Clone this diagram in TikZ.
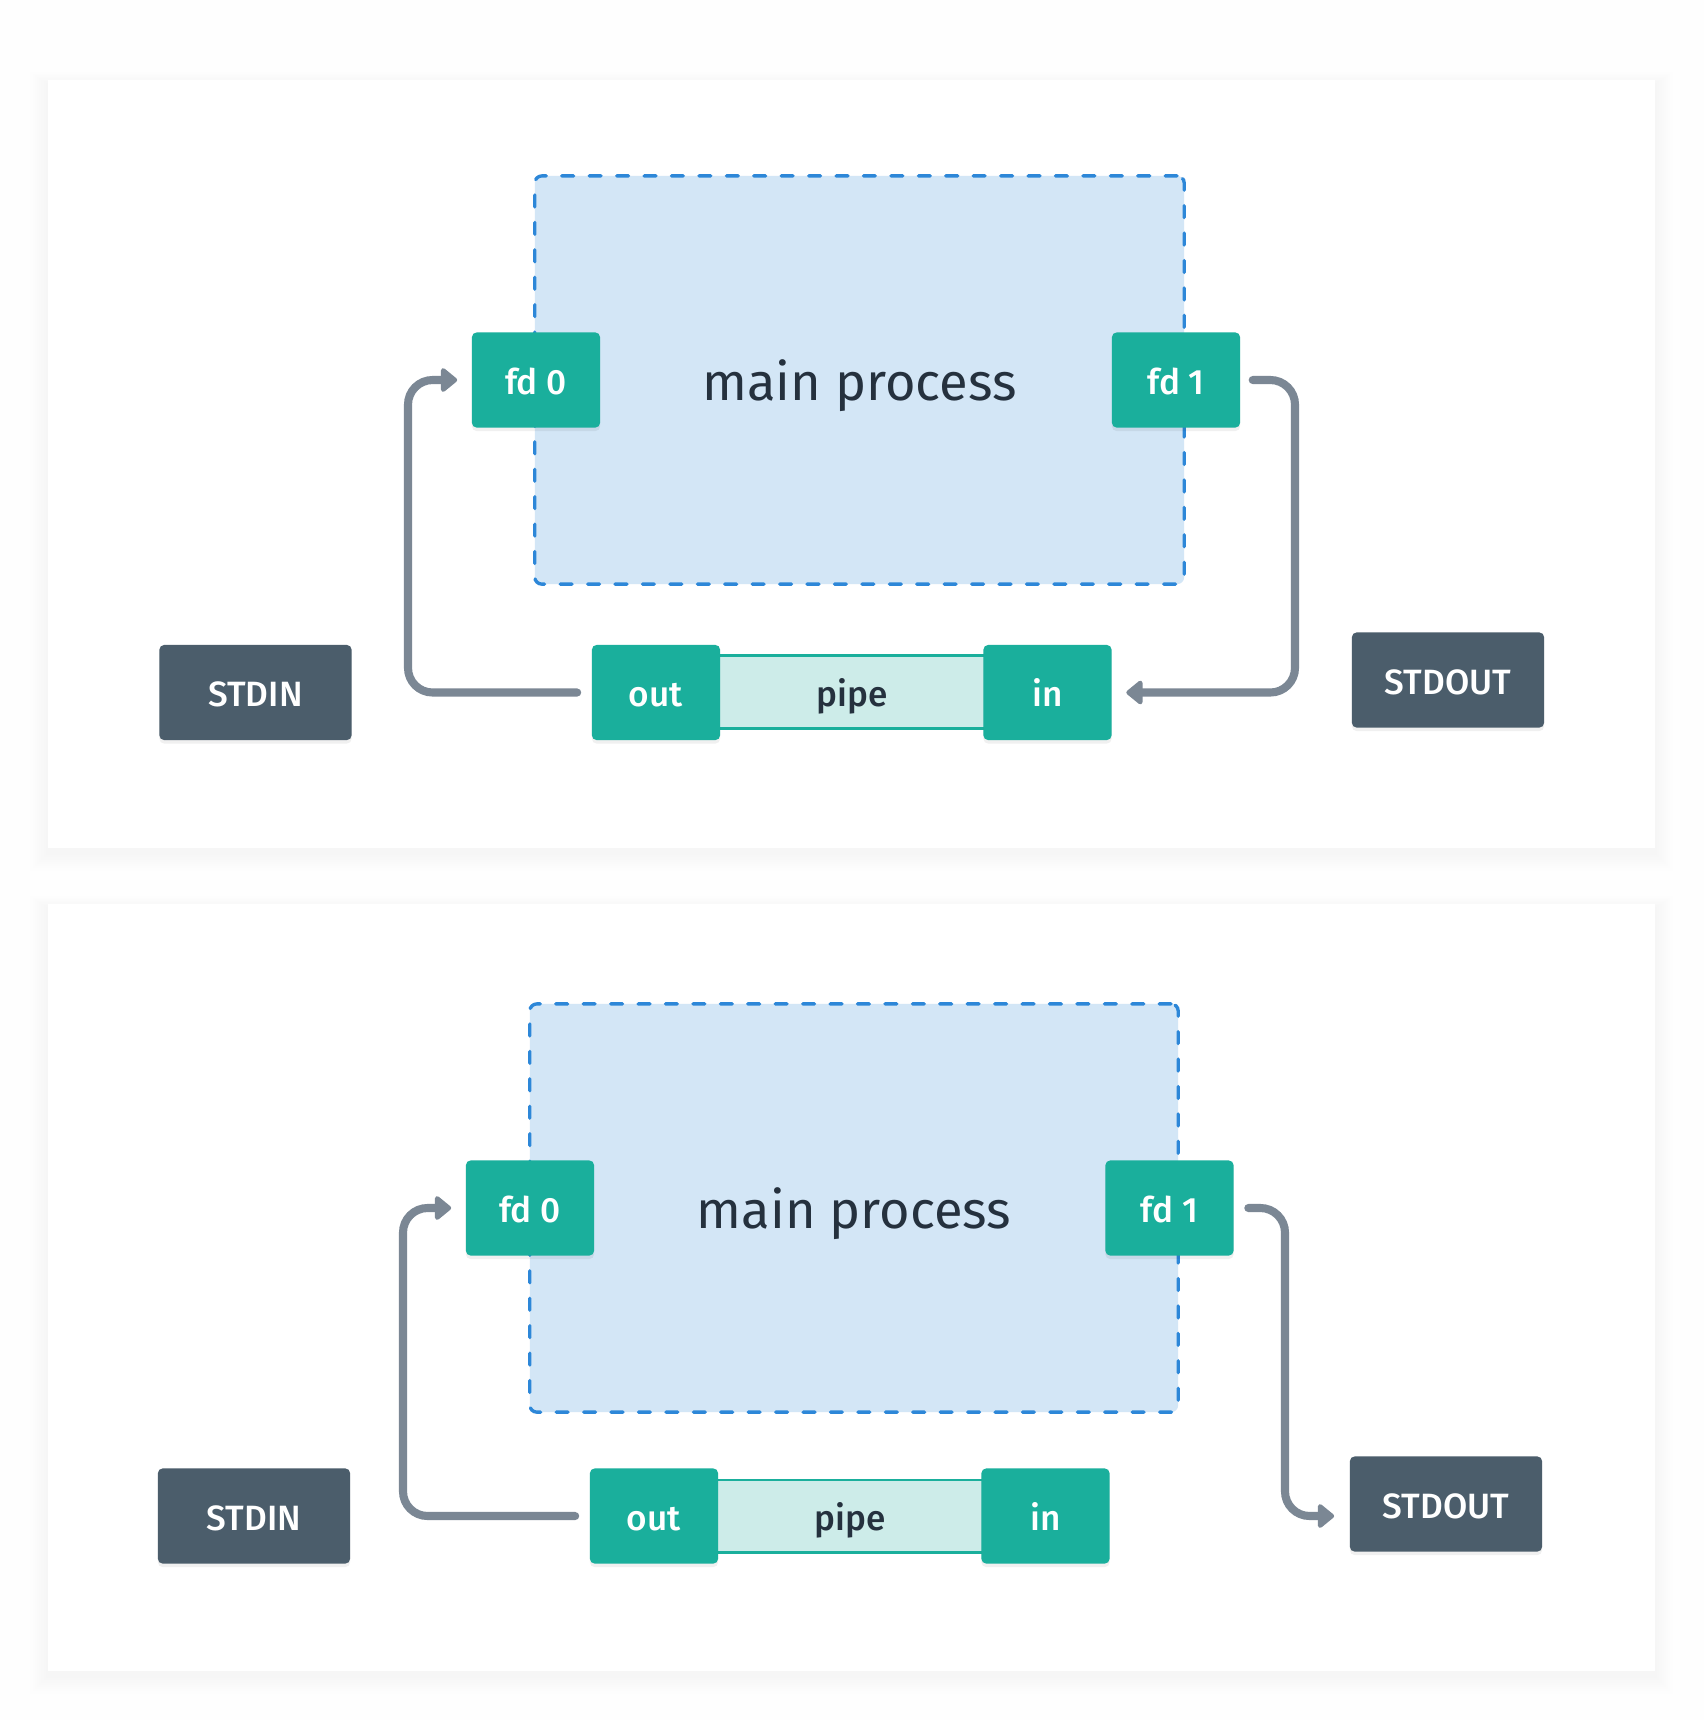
\documentclass[tikz,border=0pt]{standalone}
\usepackage{fontspec}
\setmainfont{Fira Sans}
\newfontfamily\labelfont{Fira Sans Medium}
\usetikzlibrary{arrows.meta,shadows}
\definecolor{tealbox}{HTML}{1AAF9C}
\definecolor{slatebox}{HTML}{4B5D6B}
\definecolor{dashblue}{HTML}{2D87D8}
\definecolor{procfill}{HTML}{D3E6F6}
\definecolor{arrowgray}{HTML}{7B8794}
\definecolor{pipefill}{HTML}{CDECE9}
\definecolor{darktext}{HTML}{25313E}
\definecolor{pagebg}{HTML}{FEFEFE}
\tikzset{
  procbox/.style={draw=dashblue, fill=procfill, line width=0.95pt, dash pattern=on 3.4pt off 4.4pt, line cap=round, rounded corners=2pt, inner sep=0pt, text depth=0pt, font=\fontsize{14.9}{18}\selectfont, text=darktext},
  lbl/.style={inner sep=0pt, text height=8.2pt, text depth=0pt, font=\labelfont\fontsize{10}{12}\selectfont},
  fdbox/.style={lbl, fill=tealbox, rounded corners=1.3pt, minimum width=1.28cm, minimum height=0.95cm, text=white, drop shadow={shadow xshift=0pt, shadow yshift=-1pt, opacity=0.06, fill=black}},
  iobox/.style={lbl, fill=slatebox, rounded corners=1.3pt, minimum width=1.92cm, minimum height=0.95cm, text=white, drop shadow={shadow xshift=0pt, shadow yshift=-1pt, opacity=0.06, fill=black}},
  pipebar/.style={lbl, fill=pipefill, draw=tealbox, line width=0.85pt, minimum width=2.66cm, minimum height=0.72cm, text=darktext},
  flow/.style={draw=arrowgray, line width=2.3pt, rounded corners=7pt, line cap=round, -{Triangle[length=5pt,width=7.8pt,round]}}
}
\begin{document}
\begin{tikzpicture}[x=0.01cm,y=-0.01cm]
\useasboundingbox (0,0) rectangle (1704,1720);
\fill[pagebg] (0,0) rectangle (1704,1720);
% panels with soft shadows
\foreach \ya/\yb in {80/848, 904/1671}{
  \foreach \i in {1,...,8}{
    \fill[black,opacity=0.004] (48-\i*2.2,\ya-\i*1.5+4) rectangle (1655+\i*2.2,\yb+\i*2.2+5);
  }
  \fill[white] (48,\ya) rectangle (1655,\yb);
}

% ===== top panel =====
\node[procbox, minimum width=6.49cm, minimum height=4.08cm] (proc) at (859.5,380) {main process};
\node[fdbox] (fd0) at (536,380) {fd 0};
\node[fdbox] (fd1) at (1176,380) {fd 1};
\node[pipebar] (pipe) at (852,692) {pipe};
\node[fdbox] (out) at (656,692.5) {out};
\node[fdbox] (in) at (1047.5,692.5) {in};
\node[iobox] (stdin) at (255.5,692.5) {STDIN};
\node[iobox] (stdout) at (1448,680) {STDOUT};
\coordinate (laneL) at (408,0);
\coordinate (laneR) at (1295,0);
\draw[flow] ([xshift=-4pt]out.west) -| (laneL |- fd0.west) -- ([xshift=-4pt]fd0.west);
\draw[flow] ([xshift=3.4pt]fd1.east) -| (laneR |- in.east) -- ([xshift=4pt]in.east);

% ===== bottom panel =====
\node[procbox, minimum width=6.48cm, minimum height=4.08cm] (procb) at (854,1208) {main process};
\node[fdbox] (fd0b) at (530,1208) {fd 0};
\node[fdbox] (fd1b) at (1169.5,1208) {fd 1};
\node[pipebar] (pipeb) at (850,1516) {pipe};
\node[fdbox] (outb) at (654,1516) {out};
\node[fdbox] (inb) at (1045.5,1516) {in};
\node[iobox] (stdinb) at (254,1516) {STDIN};
\node[iobox] (stdoutb) at (1446,1504) {STDOUT};
\coordinate (laneLb) at (403,0);
\coordinate (laneRb) at (1285,0);
\draw[flow] ([xshift=-4pt]outb.west) -| (laneLb |- fd0b.west) -- ([xshift=-4pt]fd0b.west);
\draw[flow] ([xshift=4pt]fd1b.east) -| (laneRb |- outb.center) -- ([xshift=-4.3pt]stdoutb.west |- outb.center);
\end{tikzpicture}
\end{document}
